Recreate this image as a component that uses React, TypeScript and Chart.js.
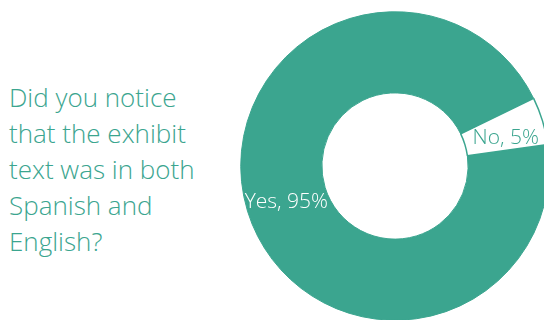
import React, { useEffect, useRef } from "react";
import { Chart, registerables } from "chart.js";

Chart.register(...registerables);

const categories = ["Yes", "No"];
const values = [95, 5];
const titleLines = ["Did you notice", "that the exhibit", "text was in both", "Spanish and", "English?"];

const TEAL = "#3ba58f";

const labelPlugin = {
  id: "sliceLabels",
  afterDatasetsDraw(chart: any) {
    const ctx = chart.ctx;
    const meta = chart.getDatasetMeta(0);
    ctx.save();
    ctx.font = '300 21px "Open Sans"';
    ctx.textAlign = "center";
    ctx.textBaseline = "middle";
    meta.data.forEach((arc: any, i: number) => {
      const p = arc.tooltipPosition();
      ctx.fillStyle = i === 0 ? "#ffffff" : TEAL;
      ctx.fillText(`${categories[i]}, ${values[i]}%`, p.x + (i === 0 ? 0 : 2), p.y + (i === 0 ? 3 : 5));
    });
    ctx.restore();
  },
};

export default function App() {
  const ref = useRef<HTMLCanvasElement | null>(null);
  useEffect(() => {
    document.body.style.margin = "0";
    const chart = new Chart(ref.current!, {
      type: "doughnut",
      data: {
        labels: categories,
        datasets: [
          {
            data: values,
            backgroundColor: [TEAL, "#ffffff"],
            borderColor: [TEAL, TEAL],
            borderWidth: [1, 1.5],
          },
        ],
      },
      options: {
        animation: false,
        responsive: false,
        rotation: 82,
        cutout: "47.4%",
        plugins: { legend: { display: false }, tooltip: { enabled: false } },
        layout: { padding: 0 },
      },
      plugins: [labelPlugin],
    });
    return () => chart.destroy();
  }, []);

  return (
    <div style={{ position: "fixed", left: 0, top: 0, width: 544, height: 320, overflow: "hidden", background: "#fff" }}>
      <div
        style={{
          position: "absolute",
          left: 9,
          top: 79,
          fontFamily: '"Open Sans", sans-serif',
          fontWeight: 300,
          fontSize: 26,
          lineHeight: "36px",
          color: TEAL,
          whiteSpace: "nowrap",
        }}
      >
        {titleLines.map((l, i) => (
          <div key={i}>{l}</div>
        ))}
      </div>
      <div style={{ position: "absolute", left: 240, top: 11, width: 310, height: 310 }}>
        <canvas ref={ref} width={310} height={310} style={{ width: 310, height: 310 }} />
      </div>
    </div>
  );
}
